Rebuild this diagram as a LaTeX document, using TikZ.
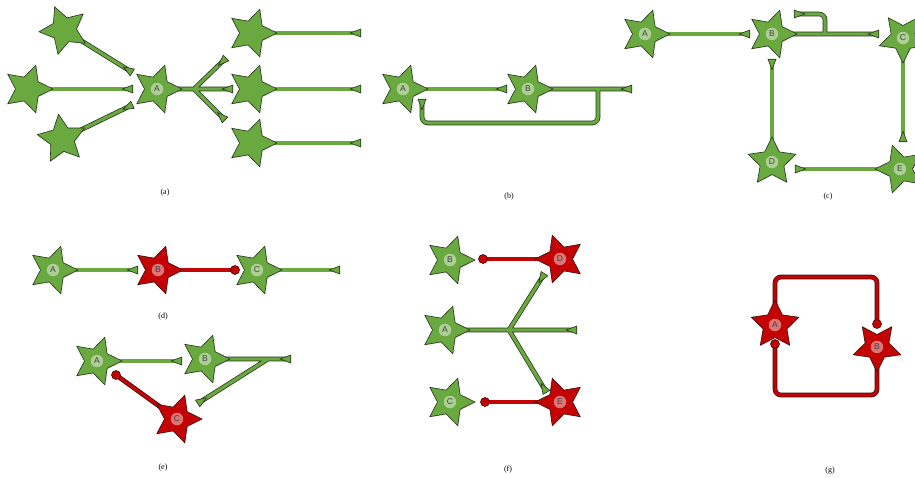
\documentclass[tikz,border=0pt]{standalone}
\usepackage{fontspec}
\setmainfont{Liberation Serif}
\setsansfont{Liberation Sans}
\usetikzlibrary{shapes.geometric,shadows}
\definecolor{gfill}{RGB}{106,168,64}
\definecolor{gline}{RGB}{38,52,28}
\definecolor{rfill}{RGB}{196,4,4}
\definecolor{rline}{RGB}{58,12,12}
\pgfdeclarelayer{bg}
\pgfsetlayers{bg,main}
\tikzset{
  starbase/.style={star, star points=5, star point ratio=2.0, minimum size=50pt, inner sep=0pt, line width=0.6pt,
    drop shadow={opacity=0.25, shadow xshift=0.7pt, shadow yshift=-0.7pt}},
  gstar/.style={starbase, fill=gfill, draw=gline},
  rstar/.style={starbase, fill=rfill, draw=rline},
  lab/.style={circle, inner sep=0pt, minimum size=12.5pt, fill=white, fill opacity=0.45, text opacity=1,
    text=black!75, font=\sffamily\fontsize{8.5}{8.5}\selectfont},
  syn/.style={isosceles triangle, isosceles triangle stretches, minimum width=8pt, minimum height=10.5pt,
    inner sep=0pt, fill=gfill, draw=gline, line width=0.6pt},
  dot/.style={circle, minimum size=9pt, inner sep=0pt, fill=rfill, draw=rline, line width=0.6pt},
  axg/.style={draw=gline, double=gfill, double distance=3.2pt, line width=0.75pt, rounded corners=6pt},
  axr/.style={draw=rline, double=rfill, double distance=3.2pt, line width=0.75pt, rounded corners=6pt},
  captxt/.style={font=\fontsize{8}{8}\selectfont, inner sep=0pt},
}
\newcommand\neuron[5]{\node[#2, rotate=#4] (#1) at (#3) {}; \node[lab] (#1l) at (#1.center) {#5};}
\begin{document}
\begin{tikzpicture}[x=1pt,y=-1pt]
\begin{pgfonlayer}{bg}
\fill[white] (0,0) rectangle (915,477);
\end{pgfonlayer}
\useasboundingbox (0,0) rectangle (915,477);

% ---------- (a)
\node[gstar, rotate=-122] (aS1) at (64,30) {};
\node[gstar, rotate=-90] (aS2) at (28,89) {};
\node[gstar, rotate=-64] (aS3) at (62,139) {};
\neuron{aA}{gstar}{157,89}{-90}{A}
\node[gstar, rotate=-90] (aR1) at (252,33) {};
\node[gstar, rotate=-90] (aR2) at (252,89) {};
\node[gstar, rotate=-90] (aR3) at (252,143) {};
\node[syn, rotate=148] (aT1) at (130,71) {};
\node[syn, rotate=180] (aT2) at (130,89) {};
\node[syn, rotate=206] (aT3) at (130,106) {};
\node[syn, rotate=180] (aT4) at (230,89) {};
\node[syn, rotate=224] (aT5) at (224,60) {};
\node[syn, rotate=135] (aT6) at (223,118) {};
\node[syn, rotate=180] (aT7) at (358,33) {};
\node[syn, rotate=180] (aT8) at (358,89) {};
\node[syn, rotate=180] (aT9) at (358,143) {};
\coordinate (aJ) at (194,89);
\node[captxt] (capa) at (165,193) {(a)};

% ---------- (b)
\neuron{bA}{gstar}{403,89}{-90}{A}
\neuron{bB}{gstar}{528,89}{-90}{B}
\node[syn, rotate=180] (bT1) at (504,89) {};
\node[syn, rotate=180] (bT2) at (629,89) {};
\node[syn, rotate=270] (bT3) at (422,102) {};
\coordinate (bJ) at (598,89);
\coordinate (bK1) at (598,123);
\coordinate (bK2) at (422,123);
\node[captxt] (capb) at (509,197) {(b)};

% ---------- (c)
\neuron{cA}{gstar}{645,34}{-90}{A}
\neuron{cB}{gstar}{772,34}{-90}{B}
\neuron{cC}{gstar}{903,38}{180}{C}
\neuron{cD}{gstar}{772,162}{0}{D}
\neuron{cE}{gstar}{900,169}{90}{E}
\node[syn, rotate=180] (cT1) at (747,34) {};
\node[syn, rotate=180] (cT2) at (876,34) {};
\node[syn, rotate=0] (cT3) at (797,14) {};
\node[syn, rotate=90] (cT4) at (903,139) {};
\node[syn, rotate=0] (cT5) at (798,169) {};
\node[syn, rotate=270] (cT6) at (772,62) {};
\coordinate (cJ) at (825,34);
\coordinate (cK1) at (825,14);
\node[captxt] (capc) at (828,197) {(c)};

% ---------- (d)
\neuron{dA}{gstar}{53,270}{-90}{A}
\neuron{dB}{rstar}{158,270}{-90}{B}
\neuron{dC}{gstar}{257,270}{-90}{C}
\node[syn, rotate=180] (dT1) at (135,270) {};
\node[dot] (dC1) at (235,270) {};
\node[syn, rotate=180] (dT2) at (337,270) {};
\node[captxt] (capd) at (163,317) {(d)};

% ---------- (e)
\neuron{eA}{gstar}{97,361}{-90}{A}
\neuron{eB}{gstar}{205,359}{-90}{B}
\neuron{eC}{rstar}{177,419}{54}{C}
\node[syn, rotate=180] (eT1) at (179,361) {};
\node[syn, rotate=180] (eT2) at (288,359) {};
\node[syn, rotate=32] (eT3) at (200,402) {};
\node[dot] (eC1) at (116,375) {};
\coordinate (eJ) at (268,359);
\node[captxt] (cape) at (163,468) {(e)};

% ---------- (f)
\neuron{fB}{gstar}{450,260}{-90}{B}
\neuron{fD}{rstar}{560,259}{90}{D}
\neuron{fA}{gstar}{445,330}{-90}{A}
\neuron{fC}{gstar}{450,402}{-90}{C}
\neuron{fE}{rstar}{560,402}{90}{E}
\node[dot] (fC1) at (483,259) {};
\node[dot] (fC2) at (485,402) {};
\node[syn, rotate=180] (fT1) at (574,330) {};
\node[syn, rotate=238] (fTu) at (543,276) {};
\node[syn, rotate=121] (fTd) at (545,390) {};
\coordinate (fJ) at (509,330);
\node[captxt] (capf) at (508,470) {(f)};

% ---------- (g)
\neuron{gA}{rstar}{775,325}{0}{A}
\neuron{gB}{rstar}{877,347}{180}{B}
\node[dot] (gC1) at (877,324) {};
\node[dot] (gC2) at (775,344) {};
\coordinate (gK1) at (775,277);
\coordinate (gK2) at (877,277);
\coordinate (gK3) at (877,395);
\coordinate (gK4) at (775,395);
\node[captxt] (capg) at (830,471) {(g)};

\begin{pgfonlayer}{bg}
% (a)
\draw[axg] (aS1.center) -- (aT1.center);
\draw[axg] (aS2.center) -- (aT2.center);
\draw[axg] (aS3.center) -- (aT3.center);
\draw[axg] (aA.center) -- (aT4.center) (aJ) -- (aT5.center) (aJ) -- (aT6.center);
\draw[axg] (aR1.center) -- (aT7.center);
\draw[axg] (aR2.center) -- (aT8.center);
\draw[axg] (aR3.center) -- (aT9.center);
% (b)
\draw[axg] (bA.center) -- (bT1.center);
\draw[axg] (bB.center) -- (bT2.center) (bJ) -- (bK1) -- (bK2) -- (bT3.center);
% (c)
\draw[axg] (cA.center) -- (cT1.center);
\draw[axg] (cB.center) -- (cT2.center) (cJ) -- (cK1) -- (cT3.center);
\draw[axg] (cC.center) -- (cT4.center);
\draw[axg] (cE.center) -- (cT5.center);
\draw[axg] (cD.center) -- (cT6.center);
% (d)
\draw[axg] (dA.center) -- (dT1.center);
\draw[axr] (dB.center) -- (dC1.center);
\draw[axg] (dC.center) -- (dT2.center);
% (e)
\draw[axg] (eA.center) -- (eT1.center);
\draw[axg] (eB.center) -- (eT2.center) (eJ) -- (eT3.center);
\draw[axr] (eC.center) -- (eC1.center);
% (f)
\draw[axr] (fD.center) -- (fC1.center);
\draw[axr] (fE.center) -- (fC2.center);
\draw[axg] (fA.center) -- (fT1.center) (fJ) -- (fTu.center) (fJ) -- (fTd.center);
% (g)
\draw[axr] (gA.center) -- (gK1) -- (gK2) -- (gC1.center);
\draw[axr] (gB.center) -- (gK3) -- (gK4) -- (gC2.center);
\end{pgfonlayer}
\end{tikzpicture}
\end{document}
